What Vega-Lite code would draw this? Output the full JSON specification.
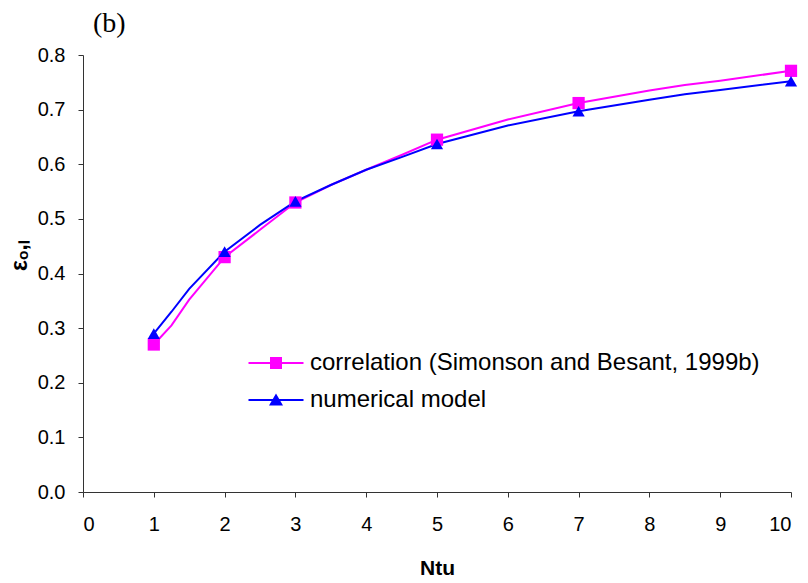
{
  "$schema": "https://vega.github.io/schema/vega-lite/v6.json",
  "autosize": {"type": "none"},
  "width": 708,
  "height": 437,
  "padding": {"left": 83, "top": 55, "right": 17, "bottom": 91},
  "background": "white",
  "config": {
    "view": {"stroke": null},
    "font": "Liberation Sans",
    "axis": {"grid": false, "domainColor": "#333333", "tickColor": "#333333", "labelColor": "black", "titleColor": "black"}
  },
  "title": {"text": "(b)", "font": "Liberation Serif", "fontSize": 28, "fontWeight": "normal", "anchor": "start", "frame": "group", "dx": 10, "offset": 7, "color": "black"},
  "datasets": {
    "curves": [
      {"ntu": 1, "eps": 0.27, "series": "correlation (Simonson and Besant, 1999b)"},
      {"ntu": 1.25, "eps": 0.305, "series": "correlation (Simonson and Besant, 1999b)"},
      {"ntu": 1.5, "eps": 0.352, "series": "correlation (Simonson and Besant, 1999b)"},
      {"ntu": 2, "eps": 0.43, "series": "correlation (Simonson and Besant, 1999b)"},
      {"ntu": 2.5, "eps": 0.48, "series": "correlation (Simonson and Besant, 1999b)"},
      {"ntu": 3, "eps": 0.53, "series": "correlation (Simonson and Besant, 1999b)"},
      {"ntu": 3.5, "eps": 0.562, "series": "correlation (Simonson and Besant, 1999b)"},
      {"ntu": 4, "eps": 0.59, "series": "correlation (Simonson and Besant, 1999b)"},
      {"ntu": 4.5, "eps": 0.617, "series": "correlation (Simonson and Besant, 1999b)"},
      {"ntu": 5, "eps": 0.645, "series": "correlation (Simonson and Besant, 1999b)"},
      {"ntu": 6, "eps": 0.682, "series": "correlation (Simonson and Besant, 1999b)"},
      {"ntu": 7, "eps": 0.712, "series": "correlation (Simonson and Besant, 1999b)"},
      {"ntu": 8, "eps": 0.735, "series": "correlation (Simonson and Besant, 1999b)"},
      {"ntu": 8.5, "eps": 0.745, "series": "correlation (Simonson and Besant, 1999b)"},
      {"ntu": 9, "eps": 0.753, "series": "correlation (Simonson and Besant, 1999b)"},
      {"ntu": 10, "eps": 0.771, "series": "correlation (Simonson and Besant, 1999b)"},
      {"ntu": 1, "eps": 0.29, "series": "numerical model"},
      {"ntu": 1.25, "eps": 0.33, "series": "numerical model"},
      {"ntu": 1.5, "eps": 0.372, "series": "numerical model"},
      {"ntu": 2, "eps": 0.44, "series": "numerical model"},
      {"ntu": 2.5, "eps": 0.489, "series": "numerical model"},
      {"ntu": 3, "eps": 0.532, "series": "numerical model"},
      {"ntu": 3.5, "eps": 0.562, "series": "numerical model"},
      {"ntu": 4, "eps": 0.59, "series": "numerical model"},
      {"ntu": 4.5, "eps": 0.613, "series": "numerical model"},
      {"ntu": 5, "eps": 0.637, "series": "numerical model"},
      {"ntu": 6, "eps": 0.671, "series": "numerical model"},
      {"ntu": 7, "eps": 0.697, "series": "numerical model"},
      {"ntu": 8, "eps": 0.718, "series": "numerical model"},
      {"ntu": 8.5, "eps": 0.728, "series": "numerical model"},
      {"ntu": 9, "eps": 0.736, "series": "numerical model"},
      {"ntu": 10, "eps": 0.752, "series": "numerical model"}
    ],
    "markers": [
      {"ntu": 1, "eps": 0.27, "series": "correlation (Simonson and Besant, 1999b)"},
      {"ntu": 2, "eps": 0.43, "series": "correlation (Simonson and Besant, 1999b)"},
      {"ntu": 3, "eps": 0.53, "series": "correlation (Simonson and Besant, 1999b)"},
      {"ntu": 5, "eps": 0.645, "series": "correlation (Simonson and Besant, 1999b)"},
      {"ntu": 7, "eps": 0.712, "series": "correlation (Simonson and Besant, 1999b)"},
      {"ntu": 10, "eps": 0.771, "series": "correlation (Simonson and Besant, 1999b)"},
      {"ntu": 1, "eps": 0.29, "series": "numerical model"},
      {"ntu": 2, "eps": 0.44, "series": "numerical model"},
      {"ntu": 3, "eps": 0.532, "series": "numerical model"},
      {"ntu": 5, "eps": 0.637, "series": "numerical model"},
      {"ntu": 7, "eps": 0.697, "series": "numerical model"},
      {"ntu": 10, "eps": 0.752, "series": "numerical model"}
    ]
  },
  "layer": [
    {
      "data": {"name": "curves"},
      "mark": {"type": "line", "strokeWidth": 2},
      "encoding": {
        "x": {"field": "ntu", "type": "quantitative", "scale": {"domain": [0, 10], "nice": false},
          "axis": {"values": [0,1,2,3,4,5,6,7,8,9,10], "format": "d", "title": "Ntu", "labelFont": "Liberation Sans Narrow, Liberation Sans", "labelFontSize": 20, "labelPadding": 17, "tickSize": 5, "titleFont": "Liberation Sans Narrow, Liberation Sans", "titleFontSize": 21, "titleFontWeight": "bold", "titlePadding": 23}},
        "y": {"field": "eps", "type": "quantitative", "scale": {"domain": [0, 0.8], "nice": false, "zero": true},
          "axis": {"values": [0,0.1,0.2,0.3,0.4,0.5,0.6,0.7,0.8], "format": ".1f", "title": "εₒ,ₗ", "labelFontSize": 20, "labelPadding": 13, "tickSize": 5, "titleFontSize": 23, "titleFontWeight": "bold", "titlePadding": 6, "titleY": 200}},
        "color": {"field": "series", "type": "nominal", "scale": {"domain": ["correlation (Simonson and Besant, 1999b)", "numerical model"], "range": ["#FF00FF", "#0000FF"]}, "legend": null}
      }
    },
    {
      "data": {"name": "markers"},
      "mark": {"type": "point", "filled": true, "opacity": 1},
      "encoding": {
        "x": {"field": "ntu", "type": "quantitative"},
        "y": {"field": "eps", "type": "quantitative"},
        "color": {"field": "series", "type": "nominal", "scale": {"domain": ["correlation (Simonson and Besant, 1999b)", "numerical model"], "range": ["#FF00FF", "#0000FF"]}, "legend": null},
        "shape": {"field": "series", "type": "nominal", "scale": {"domain": ["correlation (Simonson and Besant, 1999b)", "numerical model"], "range": ["square", "triangle-up"]}, "legend": null},
        "size": {"value": 150}
      }
    },
    {
      "data": {"name": "markers"},
      "transform": [{"filter": "datum.ntu < 0"}],
      "mark": {"type": "point", "filled": true, "opacity": 1},
      "encoding": {
        "x": {"field": "ntu", "type": "quantitative"},
        "y": {"field": "eps", "type": "quantitative"},
        "color": {"field": "series", "type": "nominal", "scale": {"domain": ["correlation (Simonson and Besant, 1999b)", "numerical model"], "range": ["#FF00FF", "#0000FF"]},
          "legend": {"title": null, "orient": "none", "legendX": 181, "legendY": 296, "symbolSize": 400, "labelOffset": 22, "labelFontSize": 24, "labelColor": "black", "labelLimit": 700, "rowPadding": 13, "symbolStrokeWidth": 0}},
        "shape": {"field": "series", "type": "nominal", "scale": {"domain": ["correlation (Simonson and Besant, 1999b)", "numerical model"], "range": ["M-2.75,-0.1L2.75,-0.1L2.75,0.1L-2.75,0.1Z M-0.6,-0.6L0.6,-0.6L0.6,0.6L-0.6,0.6Z", "M-2.75,-0.1L2.75,-0.1L2.75,0.1L-2.75,0.1Z M0,-0.65L0.7,0.55L-0.7,0.55Z"]},
          "legend": {"title": null, "orient": "none", "legendX": 181, "legendY": 296, "symbolSize": 400, "labelOffset": 22, "labelFontSize": 24, "labelColor": "black", "labelLimit": 700, "rowPadding": 13, "symbolStrokeWidth": 0}}
      }
    }
  ],
  "resolve": {"scale": {"color": "independent", "shape": "independent"}}
}
